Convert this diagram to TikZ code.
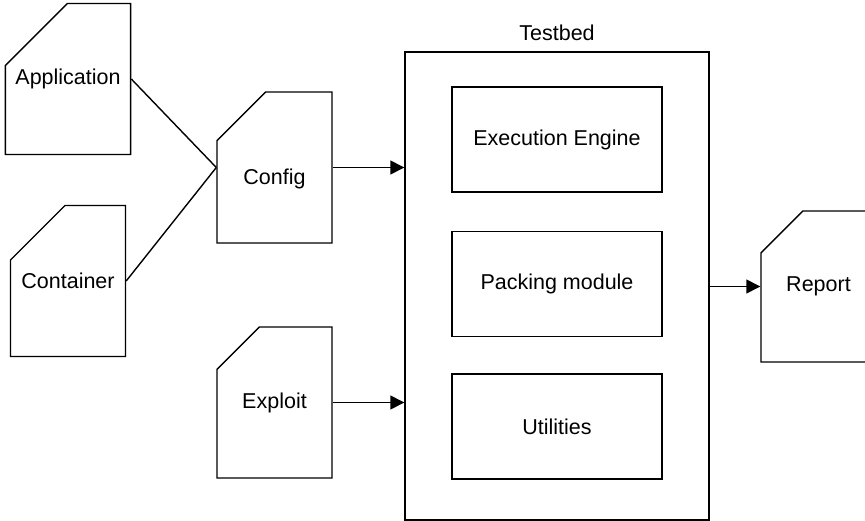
\documentclass[tikz,border=0pt]{standalone}
\usepackage{fontspec}
\setmainfont{Liberation Sans}
\usetikzlibrary{shapes.misc,arrows.meta}
\begin{document}
\begin{tikzpicture}[
    x=1pt, y=-1pt,
    line width=1.4pt,
    every node/.style={font=\fontsize{21.5}{26}\selectfont},
    card/.style={draw, chamfered rectangle,
      chamfered rectangle corners=north west,
      chamfered rectangle xsep=52pt, chamfered rectangle ysep=52pt,
      minimum width=115pt, minimum height=151pt, inner sep=0pt},
    module/.style={draw, minimum width=210pt, minimum height=105pt},
    flow/.style={-{Triangle[length=14pt,width=14pt]}}
]
\useasboundingbox (0,0) rectangle (865,521);

% inputs
\node[card] (app) at (68,79) {Application};
\node[card] (cont) at (68,281) {Container};
\node[card, text height=35pt, text depth=0pt] (config) at (274.5,167.5) {Config};
\node[card] (exploit) at (274.5,402.5) {Exploit};

% testbed with its modules
\node[draw, minimum width=304pt, minimum height=468pt,
  label={[label distance=7pt]above:Testbed}] (testbed) at (557,286) {};
\node[module] (engine) at (557,139.5) {Execution Engine};
\node[module] (packing) at (557,284) {Packing module};
\node[module] (utils) at (557,426.5) {Utilities};

% output
\node[card] (report) at (818.5,286.5) {Report};

% connectors
\draw (app.east) -- (config.west);
\draw (cont.east) -- (config.west);
\draw[flow] (config.east) -- (config.east -| testbed.west);
\draw[flow] (exploit.east) -- (exploit.east -| testbed.west);
\draw[flow] (testbed.east |- report.west) -- (report.west);
\end{tikzpicture}
\end{document}
